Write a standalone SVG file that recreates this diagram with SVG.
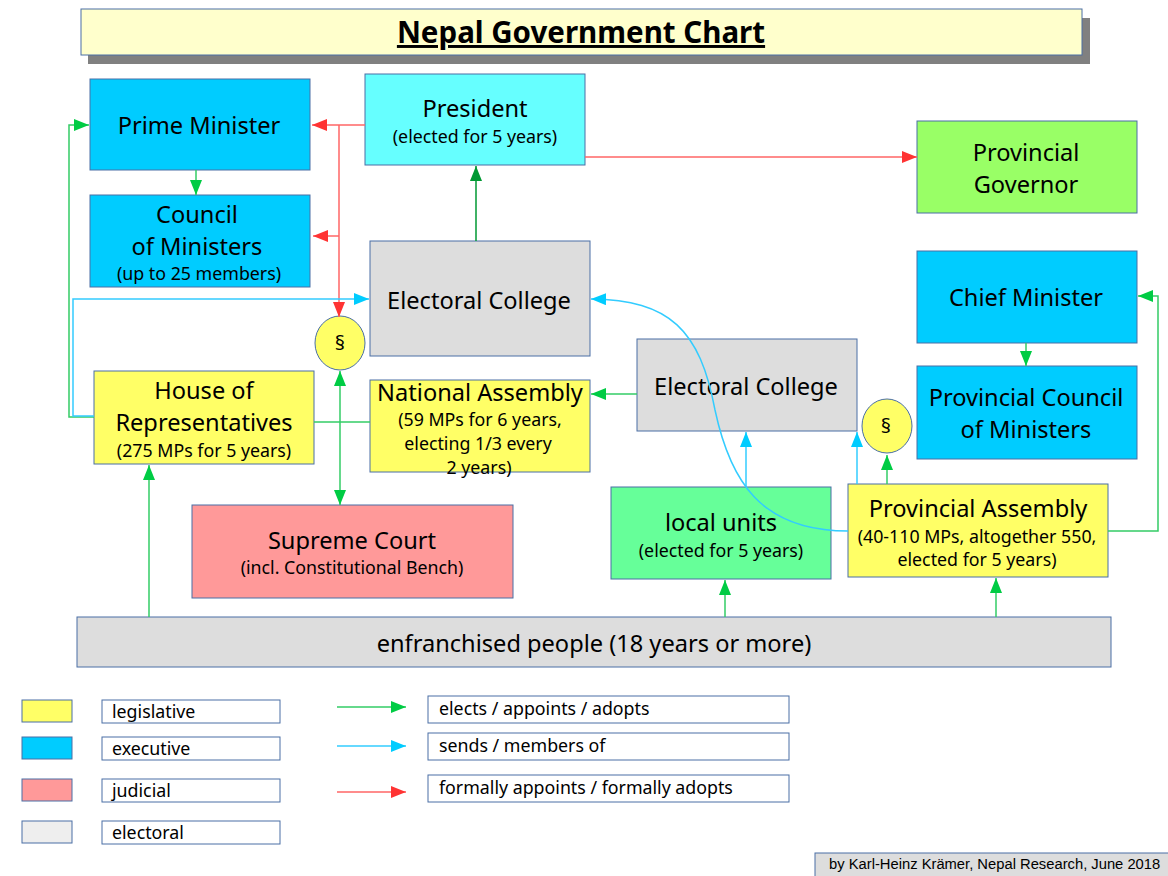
<svg xmlns="http://www.w3.org/2000/svg" width="1168" height="876" viewBox="0 0 1168 876">
<defs>
<style>
.box{stroke:#4a6fa5;stroke-width:1}
.t{font-family:"Noto Sans","Open Sans","DejaVu Sans",sans-serif;fill:#000;text-anchor:middle}
.big{font-size:23.6px}
.sm{font-size:17.8px}
.lg{font-family:"Noto Sans","Open Sans","DejaVu Sans",sans-serif;fill:#000;font-size:17.8px}
.g{stroke:#33cc66;stroke-width:1.5;fill:none}
.c{stroke:#33ccff;stroke-width:1.5;fill:none}
.r{stroke:#ff6666;stroke-width:1.5;fill:none}
</style>
<marker id="ag" markerUnits="userSpaceOnUse" markerWidth="15" markerHeight="12" refX="15" refY="6" orient="auto-start-reverse"><path d="M0,0 L15,6 L0,12 z" fill="#00cc44"/></marker>
<marker id="adg" markerUnits="userSpaceOnUse" markerWidth="15" markerHeight="12" refX="15" refY="6" orient="auto"><path d="M0,0 L15,6 L0,12 z" fill="#009933"/></marker>
<marker id="ac" markerUnits="userSpaceOnUse" markerWidth="15" markerHeight="12" refX="15" refY="6" orient="auto"><path d="M0,0 L15,6 L0,12 z" fill="#00ccff"/></marker>
<marker id="ar" markerUnits="userSpaceOnUse" markerWidth="15" markerHeight="12" refX="15" refY="6" orient="auto"><path d="M0,0 L15,6 L0,12 z" fill="#ff3333"/></marker>
</defs>
<rect width="1168" height="876" fill="#ffffff"/>

<g id="title">
<rect x="88" y="18" width="1002" height="46" fill="#808080"/>
<rect x="81" y="9" width="1001" height="46" fill="#ffffcc" class="box"/>
<text x="581" y="43" class="t" style="font-size:29.5px;font-weight:bold" text-decoration="underline">Nepal Government Chart</text>
</g>

<g id="pm">
<rect x="90" y="79" width="220" height="91" fill="#00ccff" class="box"/>
<text x="199" y="133.5" class="t big">Prime Minister</text>
</g>
<g id="president">
<rect x="365" y="74" width="220" height="91" fill="#66ffff" class="box"/>
<text x="475" y="116.5" class="t big">President</text>
<text x="475" y="142.5" class="t sm">(elected for 5 years)</text>
</g>
<g id="governor">
<rect x="917" y="121" width="220" height="92" fill="#99ff66" class="box"/>
<text x="1026" y="160.5" class="t big">Provincial</text>
<text x="1026" y="192.5" class="t big">Governor</text>
</g>
<g id="council">
<rect x="90" y="195" width="220" height="92" fill="#00ccff" class="box"/>
<text x="197" y="222.5" class="t big">Council</text>
<text x="197" y="254.5" class="t big">of Ministers</text>
<text x="199" y="279.5" class="t sm">(up to 25 members)</text>
</g>
<g id="ec1">
<rect x="370" y="241" width="220" height="115" fill="#dddddd" class="box"/>
<text x="479" y="308.5" class="t big">Electoral College</text>
</g>
<g id="chief-minister">
<rect x="917" y="251" width="220" height="92" fill="#00ccff" class="box"/>
<text x="1026" y="305.5" class="t big">Chief Minister</text>
</g>
<g id="para1">
<ellipse cx="340" cy="343" rx="25" ry="27" fill="#ffff66" class="box"/>
<text x="340" y="350" class="t" style="font-size:20px">§</text>
</g>
<g id="hor">
<rect x="94" y="371" width="220" height="93" fill="#ffff66" class="box"/>
<text x="204" y="398.5" class="t big">House of</text>
<text x="204" y="430.5" class="t big">Representatives</text>
<text x="204" y="456.5" class="t sm">(275 MPs for 5 years)</text>
</g>
<g id="na">
<rect x="370" y="380" width="220" height="92" fill="#ffff66" class="box"/>
<text x="480" y="400.5" class="t big">National Assembly</text>
<text x="480" y="425.5" class="t sm">(59 MPs for 6 years,</text>
<text x="478" y="449.5" class="t sm">electing 1/3 every</text>
<text x="479" y="473.5" class="t sm">2 years)</text>
</g>
<g id="ec2">
<rect x="637" y="339" width="220" height="92" fill="#dddddd" class="box"/>
<text x="746" y="394.5" class="t big">Electoral College</text>
</g>
<g id="pcm">
<rect x="917" y="366" width="220" height="93" fill="#00ccff" class="box"/>
<text x="1026" y="405.5" class="t big">Provincial Council</text>
<text x="1026" y="437.5" class="t big">of Ministers</text>
</g>
<g id="para2">
<ellipse cx="887" cy="426" rx="25" ry="27" fill="#ffff66" class="box"/>
<text x="886" y="433" class="t" style="font-size:20px">§</text>
</g>
<g id="supreme-court">
<rect x="192" y="505" width="321" height="93" fill="#ff9999" class="box"/>
<text x="352" y="548.5" class="t big">Supreme Court</text>
<text x="352" y="573.5" class="t sm">(incl. Constitutional Bench)</text>
</g>
<g id="local-units">
<rect x="611" y="487" width="220" height="92" fill="#66ff99" class="box"/>
<text x="721" y="530.5" class="t big">local units</text>
<text x="721" y="556.5" class="t sm">(elected for 5 years)</text>
</g>
<g id="pa">
<rect x="848" y="484" width="260" height="93" fill="#ffff66" class="box"/>
<text x="978" y="516.5" class="t big">Provincial Assembly</text>
<text x="977" y="542.5" class="t sm">(40-110 MPs, altogether 550,</text>
<text x="977" y="565.5" class="t sm">elected for 5 years)</text>
</g>
<g id="people">
<rect x="77" y="617" width="1034" height="50" fill="#dddddd" class="box"/>
<text x="594" y="651.5" class="t big">enfranchised people (18 years or more)</text>
</g>

<g id="connectors">
<path class="r" d="M365,125 L312,125" marker-end="url(#ar)"/>
<path class="r" d="M339,125 L339,317" marker-end="url(#ar)"/>
<path class="r" d="M339,236 L313,236" marker-end="url(#ar)"/>
<path class="r" d="M585,157 L917,157" marker-end="url(#ar)"/>
<path d="M476,241 L476,166" stroke="#009933" stroke-width="1.5" fill="none" marker-end="url(#adg)"/>
<path class="g" d="M196,170 L196,195" marker-end="url(#ag)"/>
<path class="g" d="M94,417 L69,417 L69,125 L89,125" marker-end="url(#ag)"/>
<path class="c" d="M94,416 L73,416 L73,299 L369,299" marker-end="url(#ac)"/>
<path class="g" d="M314,422 L370,422"/>
<path class="g" d="M340,371 L340,505" marker-start="url(#ag)" marker-end="url(#ag)"/>
<path class="g" d="M637,394 L591,394" marker-end="url(#ag)"/>
<path class="c" d="M746,487 L746,432" marker-end="url(#ac)"/>
<path class="c" d="M857,484 L857,432" marker-end="url(#ac)"/>
<path class="g" d="M887,484 L887,455" marker-end="url(#ag)"/>
<path class="c" d="M848,531 C760,531 730,480 715,410 C700,330 670,300 591,299" stroke-width="1.2" marker-end="url(#ac)"/>
<path class="g" d="M1108,531 L1158,531 L1158,296 L1138,296" marker-end="url(#ag)"/>
<path class="g" d="M1026,343 L1026,366" marker-end="url(#ag)"/>
<path class="g" d="M149,617 L149,465" marker-end="url(#ag)"/>
<path class="g" d="M725,617 L725,580" marker-end="url(#ag)"/>
<path class="g" d="M996,617 L996,578" marker-end="url(#ag)"/>
</g>

<g id="legend">
<rect x="22" y="700" width="50" height="22" fill="#ffff66" class="box"/>
<rect x="22" y="737" width="50" height="22" fill="#00ccff" class="box"/>
<rect x="22" y="779" width="50" height="22" fill="#ff9999" class="box"/>
<rect x="22" y="821" width="50" height="22" fill="#eeeeee" class="box"/>
<rect x="102" y="700" width="178" height="23" fill="#ffffff" class="box"/>
<rect x="102" y="737" width="178" height="23" fill="#ffffff" class="box"/>
<rect x="102" y="779" width="178" height="23" fill="#ffffff" class="box"/>
<rect x="102" y="821" width="178" height="23" fill="#ffffff" class="box"/>
<text x="112" y="718" class="lg">legislative</text>
<text x="112" y="755" class="lg">executive</text>
<text x="112" y="797" class="lg">judicial</text>
<text x="112" y="839" class="lg">electoral</text>
<path class="g" d="M337,707 L406,707" marker-end="url(#ag)"/>
<path class="c" d="M337,746 L406,746" marker-end="url(#ac)"/>
<path class="r" d="M337,792 L406,792" marker-end="url(#ar)"/>
<rect x="428" y="696" width="361" height="27" fill="#ffffff" class="box"/>
<rect x="428" y="733" width="361" height="27" fill="#ffffff" class="box"/>
<rect x="428" y="775" width="361" height="27" fill="#ffffff" class="box"/>
<text x="439" y="715" class="lg">elects / appoints / adopts</text>
<text x="439" y="752" class="lg">sends / members of</text>
<text x="439" y="794" class="lg">formally appoints / formally adopts</text>
</g>

<g id="footer">
<rect x="815" y="853" width="355" height="24" fill="#dddddd" class="box"/>
<text x="829" y="869" style="font-family:'Liberation Sans',Arial,sans-serif;font-size:14.75px;fill:#000">by Karl-Heinz Krämer, Nepal Research, June 2018</text>
</g>
</svg>
